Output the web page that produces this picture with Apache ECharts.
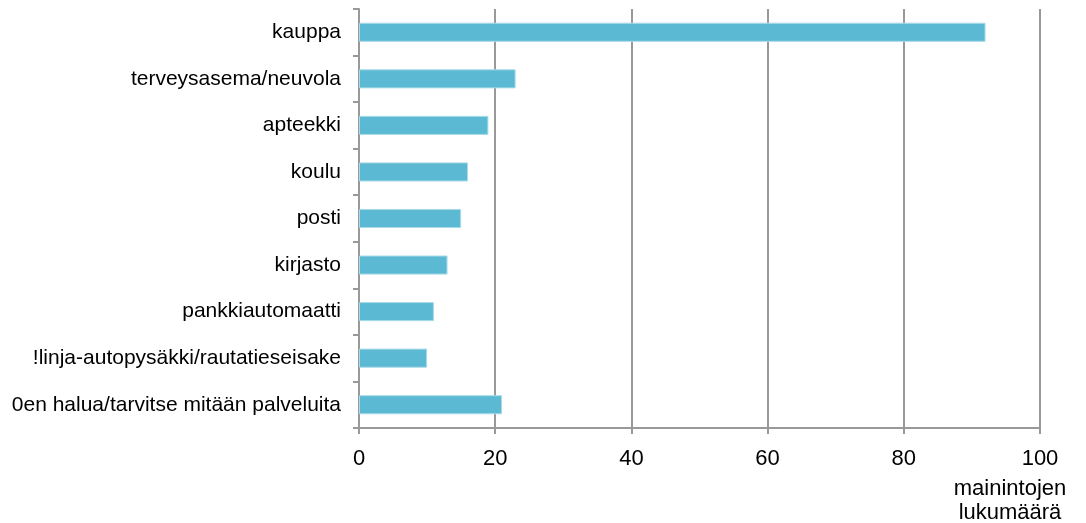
<!DOCTYPE html>
<html>
<head>
    <meta charset="utf-8" />
    <title>Palvelut</title>
    <style>
        html, body { margin: 0; padding: 0; background: #fff; }
    </style>
</head>
<body>
    <div id="divChart" style="width:1086px;height:523px;"></div>
    <script src="https://cdn.jsdelivr.net/npm/echarts@6/dist/echarts.min.js"></script>
    <script>
        var categories = ['kauppa', 'terveysasema/neuvola', 'apteekki', 'koulu', 'posti', 'kirjasto',
            'pankkiautomaatti', '!linja-autopysäkki/rautatieseisake', '0en halua/tarvitse mitään palveluita'];
        var mentions = [92, 23, 19, 16, 15, 13, 11, 10, 21];
        var axisTitle = 'mainintojen\nlukumäärä';

        var myChart = echarts.init(document.getElementById('divChart'));
        var option = {
            animation: false,
            textStyle: { fontFamily: 'Liberation Sans, Arial, sans-serif' },
            grid: { left: 359, right: 46, top: 9, bottom: 95 },
            xAxis: {
                type: 'value',
                min: 0,
                max: 100,
                interval: 20,
                axisLine: { show: true, lineStyle: { color: '#999', width: 2 } },
                axisTick: { show: true, length: 6, lineStyle: { color: '#999', width: 2 } },
                axisLabel: { color: '#000', fontSize: 22, margin: 20 },
                splitLine: { show: true, lineStyle: { color: '#999', width: 2 } }
            },
            yAxis: {
                type: 'category',
                inverse: true,
                data: categories,
                axisLine: { show: true, lineStyle: { color: '#999', width: 2 } },
                axisTick: { show: true, length: 6, lineStyle: { color: '#999', width: 2 } },
                axisLabel: { color: '#000', fontSize: 21, margin: 18 }
            },
            graphic: [{
                type: 'text',
                style: {
                    x: 1010, y: 477, text: axisTitle, fill: '#000',
                    font: '22px Liberation Sans, Arial, sans-serif',
                    align: 'center', verticalAlign: 'top', lineHeight: 24
                }
            }],
            series: [{
                type: 'bar',
                data: mentions,
                barWidth: '41%',
                itemStyle: { color: '#5BB9D3', borderColor: '#a9dbe9', borderWidth: 1 }
            }]
        };
        myChart.setOption(option);
    </script>
</body>
</html>
